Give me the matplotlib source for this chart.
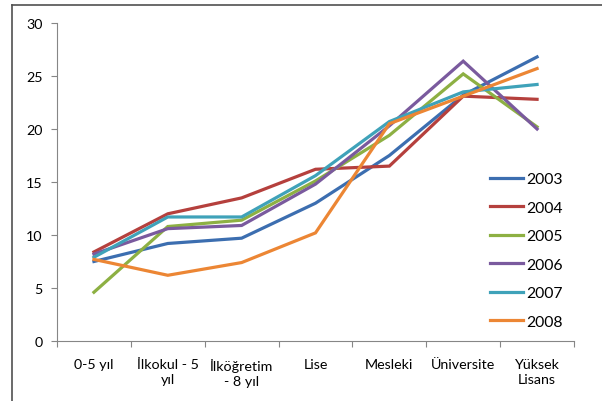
import matplotlib.pyplot as plt
from matplotlib.lines import Line2D

# education level categories (x axis)
categories = ['0-5 yıl', 'İlkokul - 5\nyıl', 'İlköğretim\n- 8 yıl', 'Lise',
              'Mesleki', 'Üniversite', 'Yüksek\nLisans']

years = ['2003', '2004', '2005', '2006', '2007', '2008']

values_2003 = [7.5, 9.2, 9.7, 13.0, 17.5, 23.2, 26.8]
values_2004 = [8.4, 12.0, 13.5, 16.2, 16.5, 23.1, 22.8]
values_2005 = [4.6, 10.8, 11.4, 15.1, 19.4, 25.2, 20.2]
values_2006 = [8.2, 10.6, 10.9, 14.8, 20.3, 26.4, 20.0]
values_2007 = [7.9, 11.7, 11.7, 15.6, 20.7, 23.5, 24.2]
values_2008 = [7.7, 6.2, 7.4, 10.2, 20.5, 23.1, 25.7]

y_ticks = [0, 5, 10, 15, 20, 25, 30]

series = [values_2003, values_2004, values_2005, values_2006, values_2007, values_2008]
colors = ['#3C6EB0', '#B5403D', '#8DB043', '#7A5A9E', '#3FA2B9', '#EC8634']

plt.rcParams['font.family'] = ['Lato', 'DejaVu Sans']

fig = plt.figure(figsize=(6.02, 4.02), dpi=100)
ax = fig.add_axes([57 / 602, 1 - 342 / 402, (574 - 57) / 602, (342 - 24) / 402])

x = list(range(len(categories)))
for name, vals, col in zip(years, series, colors):
    ax.plot(x, vals, color=col, linewidth=2.3, label=name, solid_joinstyle='miter')

ax.set_xlim(-0.5, len(categories) - 0.5)
ax.set_ylim(0, 30)
ax.set_yticks(y_ticks)

# category boundaries as major ticks, labels on minor ticks at the centers
ax.set_xticks([i - 0.5 for i in range(len(categories) + 1)])
ax.set_xticklabels([])
ax.set_xticks(x, minor=True)
ax.set_xticklabels(categories, minor=True, fontsize=10.3, linespacing=1.35, va='top')
ax.tick_params(axis='x', which='minor', length=0, pad=12)
ax.tick_params(axis='x', which='major', length=4.5, width=0.8, color='#868686', direction='out')
ax.tick_params(axis='y', length=4.5, width=0.8, color='#868686', labelsize=10.3, pad=6)

for side in ['top', 'right']:
    ax.spines[side].set_visible(False)
for side in ['left', 'bottom']:
    ax.spines[side].set_color('#868686')
    ax.spines[side].set_linewidth(0.8)

ax.legend(loc='upper left', bbox_to_anchor=(490 / 602, 1 - 173 / 402),
          bbox_transform=fig.transFigure, frameon=False, fontsize=11.3,
          handlelength=2.1, handletextpad=0.2, labelspacing=0.93,
          borderpad=0, borderaxespad=0)

# outer chart border (cut off on the right and bottom)
fig.add_artist(Line2D([12 / 602, 12 / 602], [0, 1 - 6 / 402], color='#505050', linewidth=1.2,
                      transform=fig.transFigure))
fig.add_artist(Line2D([12 / 602, 1], [1 - 6 / 402, 1 - 6 / 402], color='#505050', linewidth=1.2,
                      transform=fig.transFigure))

fig.savefig('out.png', dpi=100)
